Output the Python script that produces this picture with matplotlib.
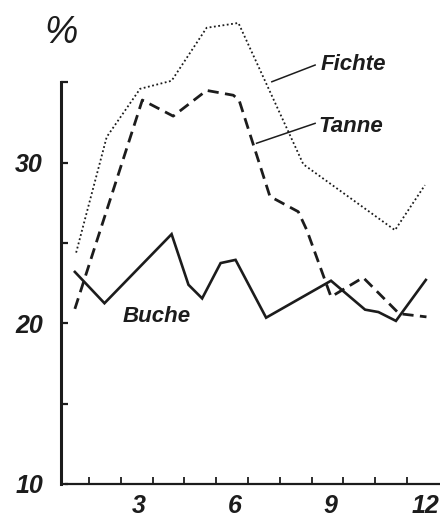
import matplotlib.pyplot as plt
import numpy as np

# month positions and percentages
fichte_x = [1.02, 1.98, 3.03, 4.02, 5.12, 6.12, 8.16, 11.04, 11.98]
fichte_y = [24.4, 31.6, 34.6, 35.1, 38.4, 38.7, 29.9, 25.8, 28.6]

tanne_x = [0.98, 3.10, 4.07, 5.12, 5.96, 6.14, 7.11, 8.0, 8.27, 9.03, 10.04, 11.17, 12.03]
tanne_y = [20.9, 33.9, 32.9, 34.5, 34.2, 33.9, 27.9, 26.95, 25.8, 21.65, 22.85, 20.6, 20.4]

buche_x = [0.98, 1.91, 4.02, 4.55, 4.98, 5.56, 6.03, 6.99, 9.03, 10.1, 10.52, 11.07, 12.01]
buche_y = [23.2, 21.25, 25.55, 22.4, 21.55, 23.75, 23.95, 20.35, 22.65, 20.85, 20.7, 20.15, 22.7]

x_labels = [3, 6, 9, 12]
y_labels = [10, 20, 30]

ink = '#1c1c1c'
font = {'family': 'Liberation Sans', 'style': 'italic', 'weight': 'bold', 'color': ink}

fig = plt.figure(figsize=(4.4, 5.17), dpi=100)
ax = fig.add_axes([0, 0, 1, 1])
ax.set_xlim(-1.373, 12.455)
ax.set_ylim(7.94, 40.13)

# the three curves
ax.plot(buche_x, buche_y, color=ink, lw=1.9, solid_joinstyle='miter')
ax.plot(tanne_x, tanne_y, color=ink, lw=2.0, linestyle=(0, (4, 2.3)))
ax.plot(fichte_x, fichte_y, color=ink, lw=1.3, linestyle=(0, (1, 1.4)))

# axes lines
for s in ['top', 'right']:
    ax.spines[s].set_visible(False)
ax.spines['left'].set_position(('data', 0.544))
ax.spines['left'].set_bounds(10, 35)
ax.spines['left'].set_linewidth(2.2)
ax.spines['left'].set_color(ink)
ax.spines['bottom'].set_position(('data', 10))
ax.spines['bottom'].set_bounds(0.70, 12.455)
ax.spines['bottom'].set_linewidth(1.6)
ax.spines['bottom'].set_color(ink)

ax.set_yticks(y_labels)
ax.set_yticklabels([str(v) for v in y_labels])
ax.set_yticks([15, 25, 35], minor=True)
ax.tick_params(axis='y', which='both', direction='in', length=5, width=1.6,
               color=ink, pad=13)

ax.set_xticks(x_labels)
ax.set_xticklabels([str(v) for v in x_labels])
ax.set_xticks(np.arange(1, 12) + 0.42, minor=True)
ax.tick_params(axis='x', which='major', length=0, pad=7)
ax.tick_params(axis='x', which='minor', direction='in', length=5, width=1.3, color=ink)

for lab in ax.get_xticklabels() + ax.get_yticklabels():
    lab.set_fontfamily('Liberation Sans')
    lab.set_fontstyle('italic')
    lab.set_fontweight('bold')
    lab.set_fontsize(18)
    lab.set_color(ink)

# series names and leader lines
ax.text(9.72, 35.78, 'Fichte', fontsize=16, ha='center', va='baseline', **font)
ax.text(9.66, 31.91, 'Tanne', fontsize=16, ha='center', va='baseline', **font)
ax.text(3.56, 20.08, 'Buche', fontsize=16, ha='center', va='baseline', **font)
ax.plot([7.17, 8.53], [35.04, 36.08], color=ink, lw=1.1)
ax.plot([6.69, 8.53], [31.21, 32.45], color=ink, lw=1.1)

ax.text(0.56, 37.45, '%', fontsize=27, ha='center', va='baseline',
        family='Liberation Sans', style='italic', color=ink)

fig.savefig('out.png', dpi=100, facecolor='white')
